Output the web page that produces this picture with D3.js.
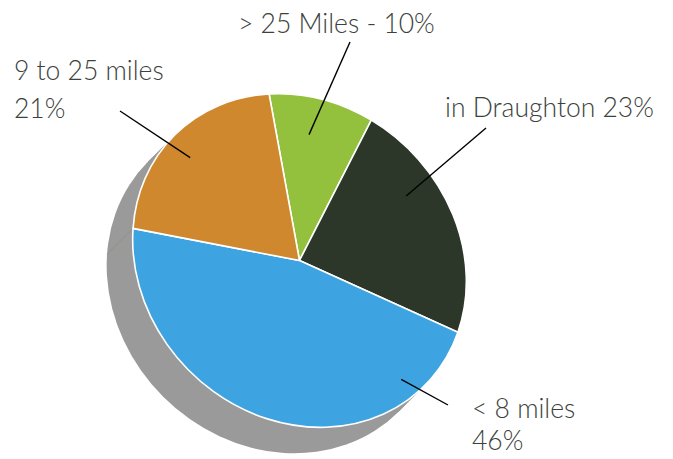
<!DOCTYPE html>
<html>
<head>
<meta charset="utf-8">
<script src="https://cdn.jsdelivr.net/npm/d3@7"></script>
<style>
  html, body { margin: 0; padding: 0; background: #fff; }
  svg { display: block; }
</style>
</head>
<body>
<svg id="chart" width="673" height="459"></svg>
<script>
// ---- data ----
const categories = ["> 25 Miles", "in Draughton", "< 8 miles", "9 to 25 miles"];
const percents = [10, 23, 46, 21];
const labelLines = [
  ["> 25 Miles - 10%"],
  ["in Draughton 23%"],
  ["< 8 miles", "46%"],
  ["9 to 25 miles", "21%"]
];
const colors = ["#93c13d", "#2c3629", "#3ea4e1", "#d0882e"];

// ---- layout ----
const cx = 299.5, cy = 260.5, R = 165;
const semiMajor = 177, semiMinor = 156;   // tilted disc (major axis along 45deg)
const shadowOffset = [-26, 26];
const startDeg = -6.9;

const sa = semiMajor / R, sb = semiMinor / R;
const m1 = (sa + sb) / 2, m2 = (sa - sb) / 2;
const project = (x, y) => [m1 * x + m2 * y, m2 * x + m1 * y];
const tilt = `matrix(${m1},${m2},${m2},${m1},0,0)`;

const svg = d3.select("#chart");
const g = svg.append("g").attr("transform", `translate(${cx},${cy})`);

// shadow: disc extruded toward lower-left
const [ox, oy] = shadowOffset;
const ma = [semiMajor / Math.SQRT2, semiMajor / Math.SQRT2];  // ends of major axis
g.append("ellipse")
  .attr("rx", semiMajor).attr("ry", semiMinor)
  .attr("transform", `translate(${ox},${oy}) rotate(45)`)
  .attr("fill", "#9a9a9a");
g.append("path")
  .attr("d", `M${ma[0]},${ma[1]} L${ma[0] + ox},${ma[1] + oy} L${-ma[0] + ox},${-ma[1] + oy} L${-ma[0]},${-ma[1]} Z`)
  .attr("fill", "#9a9a9a");

// pie
const pie = d3.pie().sort(null).value(d => d)
  .startAngle(startDeg * Math.PI / 180)
  .endAngle(startDeg * Math.PI / 180 + 2 * Math.PI);
const arcs = pie(percents);
const arc = d3.arc().innerRadius(0).outerRadius(R);

// faint edge line on the side face at the blue/orange boundary
{
  const th = arcs[3].startAngle;
  const [x0, y0] = project(Math.sin(th) * R, -Math.cos(th) * R);
  g.append("line")
    .attr("x1", x0).attr("y1", y0).attr("x2", x0 + ox).attr("y2", y0 + oy)
    .attr("stroke", "#9c8566").attr("stroke-width", 0.8).attr("opacity", 0.7);
}

const pg = g.append("g").attr("transform", tilt);
pg.selectAll("path.slice").data(arcs).enter().append("path")
  .attr("class", "slice")
  .attr("d", arc)
  .attr("fill", (d, i) => colors[i])
  .attr("stroke", "#fff")
  .attr("stroke-width", 1.6)
  .attr("vector-effect", "non-scaling-stroke")
  .attr("stroke-linejoin", "round");

// leader lines: inner end given as (fraction along slice, radius), outer end in page px
const leaders = [
  { t: 0.41, r: 127, end: [350, 42] },
  { t: 0.34, r: 131, end: [486, 128] },
  { t: 0.17, r: 146, end: [448, 405] },
  { t: 0.47, r: 140, end: [120, 111] }
];
arcs.forEach((a, i) => {
  const L = leaders[i];
  const th = a.startAngle + (a.endAngle - a.startAngle) * L.t;
  const [x1, y1] = project(Math.sin(th) * L.r, -Math.cos(th) * L.r);
  g.append("line")
    .attr("x1", x1).attr("y1", y1)
    .attr("x2", L.end[0] - cx).attr("y2", L.end[1] - cy)
    .attr("stroke", "#000").attr("stroke-width", 1.4);
});

// labels
const labelPos = [
  { x: 238, y: [33] },
  { x: 445, y: [117] },
  { x: 472, y: [418, 450] },
  { x: 14, y: [80, 118] }
];
labelLines.forEach((lines, i) => {
  lines.forEach((txt, j) => {
    svg.append("text")
      .attr("x", labelPos[i].x)
      .attr("y", labelPos[i].y[j])
      .attr("font-family", "Lato, 'Open Sans', sans-serif")
      .attr("font-weight", 300)
      .attr("font-size", 26.5)
      .attr("fill", "#3b423b")
      .text(txt);
  });
});
</script>
</body>
</html>
